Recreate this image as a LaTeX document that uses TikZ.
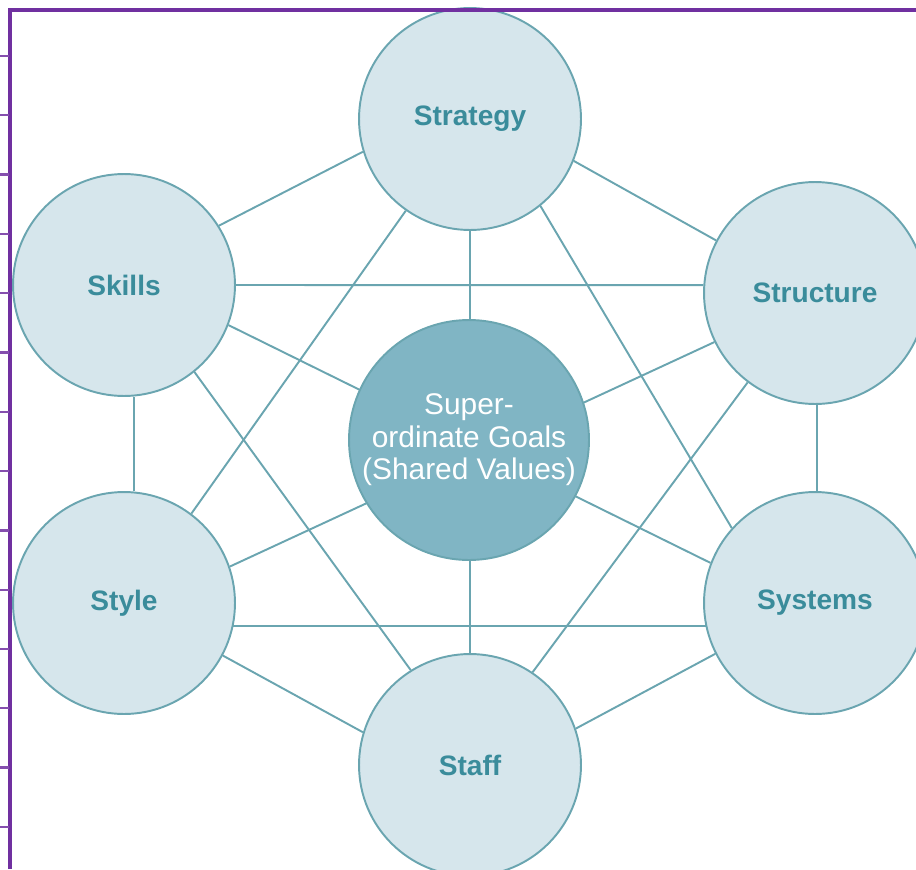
\documentclass[tikz,border=0pt]{standalone}
\usepackage{fontspec}
\setmainfont{Liberation Sans}
\usepackage{xcolor}
\usetikzlibrary{backgrounds}

\definecolor{ringfill}{HTML}{D6E6EC}
\definecolor{ringline}{HTML}{6AA5B0}
\definecolor{ringtext}{HTML}{3A8C9B}
\definecolor{hubfill}{HTML}{80B5C4}
\definecolor{framepurple}{HTML}{7030A0}

\begin{document}
\begin{tikzpicture}[x=0.02cm, y=-0.02cm,
  elem/.style={circle, draw=ringline, line width=1.1pt, fill=ringfill,
               minimum size=4.44cm, inner sep=0pt, text=ringtext,
               font=\fontsize{16}{19}\selectfont\bfseries},
  hub/.style={circle, draw=ringline, line width=1.1pt, fill=hubfill,
              minimum size=4.8cm, inner sep=0pt, text=white, align=center,
              font=\fontsize{17}{18.5}\selectfont},
  link/.style={draw=ringline, line width=1.1pt},
  frame/.style={draw=framepurple, line width=0.08cm},
  tick/.style={draw=framepurple!85!white, line width=0.045cm}
]
  \useasboundingbox (0,0) rectangle (916,869);
  \clip (0,0) rectangle (916,869);

  \node[elem] (strat)  at (470,119) {Strategy};
  \node[elem] (skill)  at (124,285) {Skills};
  \node[elem] (struct) at (815,293) {Structure};
  \node[elem] (styl)   at (124,603) {Style};
  \node[elem] (sys)    at (815,603) {Systems};
  \node[elem] (staff)  at (470,765) {Staff};
  \node[hub]  (goals)  at (469,440) {Super-\\ordinate Goals\\(Shared Values)};

  \begin{scope}[on background layer]
    \draw[link] (strat.197)  -- (skill.32);
    \draw[link] (strat.-22)  -- (struct.152);
    \draw[link] (strat.-90)  -- (staff.90);
    \draw[link] (strat.235)  -- (styl.53);
    \draw[link] (strat.-51)  -- (sys.138);
    \draw[link] (skill.0)    -- (struct.176);
    \draw[link] (skill.-21)  -- (sys.159);
    \draw[link] (skill.-85)  -- (styl.85);
    \draw[link] (skill.-51)  -- (staff.122);
    \draw[link] (struct.206) -- (styl.19);
    \draw[link] (struct.-89) -- (sys.89);
    \draw[link] (struct.233) -- (staff.56);
    \draw[link] (styl.-12)   -- (sys.192);
    \draw[link] (styl.-28)   -- (staff.163);
    \draw[link] (sys.207)    -- (staff.19);
  \end{scope}

  \draw[frame] (10,869) -- (10,10) -- (916,10);
  \foreach \k in {0,...,13}
    \draw[tick] (0,56+59.3*\k) -- (9,56+59.3*\k);
\end{tikzpicture}
\end{document}
